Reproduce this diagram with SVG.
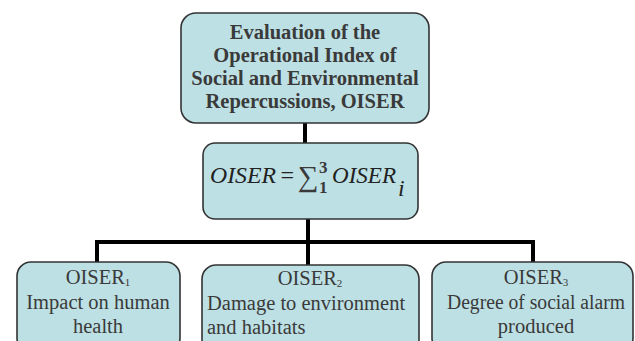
<svg xmlns="http://www.w3.org/2000/svg" width="635" height="341" viewBox="0 0 635 341">
<style>
.box{fill:#bde0e4;stroke:#333;stroke-width:1.6}
.t{font-family:'Liberation Serif','Times New Roman',serif;fill:#3a3a3a}
.b{font-weight:bold;font-size:20.5px;text-anchor:middle}
.r{font-size:20.5px}
.m{font-size:24px;font-style:italic;fill:#222}
.s{font-size:11px}
.c{fill:none;stroke:#000;stroke-width:4}
</style>
<rect width="635" height="341" fill="#fff"/>
<g id="connectors">
<line class="c" x1="305" y1="123" x2="305" y2="143"/>
<line class="c" x1="308" y1="219" x2="308" y2="265"/>
<polyline class="c" points="97,262 97,242 533,242 533,262"/>
</g>
<g id="top">
<rect class="box" x="181" y="13" width="248" height="110" rx="15"/>
<text class="t b" x="305" y="39">Evaluation of the</text>
<text class="t b" x="305" y="62">Operational Index of</text>
<text class="t b" x="305" y="85">Social and Environmental</text>
<text class="t b" x="305" y="108">Repercussions, OISER</text>
</g>
<g id="formula">
<rect class="box" x="203" y="143" width="215" height="76" rx="12"/>
<text class="t m" x="210" y="183" textLength="66" lengthAdjust="spacingAndGlyphs">OISER</text>
<text class="t m" x="279" y="183" font-style="normal">=</text>
<text class="t" x="298" y="186" font-size="29" fill="#222">∑</text>
<text class="t" x="319" y="173" font-size="17" font-weight="bold" fill="#222">3</text>
<text class="t" x="319" y="193" font-size="17" font-weight="bold" fill="#222">1</text>
<text class="t m" x="332" y="183" textLength="64" lengthAdjust="spacingAndGlyphs">OISER</text>
<text class="t m" x="398" y="196" font-size="17">i</text>
</g>
<g id="oiser1">
<rect class="box" x="17" y="262" width="163" height="90" rx="14"/>
<text class="t r" x="98" y="284" text-anchor="middle">OISER<tspan class="s" dy="2">1</tspan></text>
<text class="t r" x="98" y="309" text-anchor="middle">Impact on human</text>
<text class="t r" x="98" y="333" text-anchor="middle">health</text>
</g>
<g id="oiser2">
<rect class="box" x="202" y="265" width="217" height="90" rx="14"/>
<text class="t r" x="310" y="285" text-anchor="middle">OISER<tspan class="s" dy="2">2</tspan></text>
<text class="t r" x="207" y="310">Damage to environment</text>
<text class="t r" x="207" y="334">and habitats</text>
</g>
<g id="oiser3">
<rect class="box" x="432" y="262" width="201" height="90" rx="14"/>
<text class="t r" x="536" y="284" text-anchor="middle">OISER<tspan class="s" dy="2">3</tspan></text>
<text class="t r" x="536" y="309" text-anchor="middle" textLength="178" lengthAdjust="spacingAndGlyphs">Degree of social alarm</text>
<text class="t r" x="536" y="333" text-anchor="middle">produced</text>
</g>
</svg>
